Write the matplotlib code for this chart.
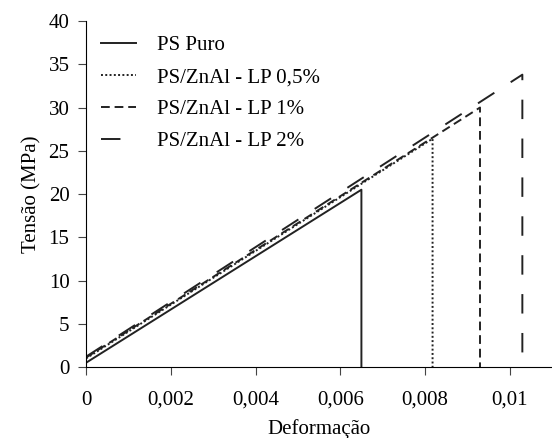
import matplotlib
matplotlib.use('Agg')
import matplotlib.pyplot as plt

plt.rcParams['font.family'] = ['Liberation Serif', 'DejaVu Serif']
plt.rcParams['font.size'] = 15

# (strain, stress): start, rupture point, drop to zero
puro_x = [0, 0.0065, 0.0065]
puro_y = [0.5, 20.5, 0]
lp05_x = [0, 0.00818, 0.00818]
lp05_y = [1.0, 26.4, 0]
lp1_x = [0, 0.0093, 0.0093]
lp1_y = [1.1, 30.0, 0]
lp2_x = [0, 0.0103, 0.0103]
lp2_y = [1.2, 33.8, 0]

labels = ['PS Puro', 'PS/ZnAl - LP 0,5%', 'PS/ZnAl - LP 1%', 'PS/ZnAl - LP 2%']
xticks = [0, 0.002, 0.004, 0.006, 0.008, 0.01]
xticklabels = ['0', '0,002', '0,004', '0,006', '0,008', '0,01']

fig = plt.figure(figsize=(5.52, 4.38), dpi=100)
ax = fig.add_axes([0.156, 0.162, 0.844, 0.79])

ax.plot(puro_x, puro_y, color='#222222', lw=1.4, ls='-', label=labels[0])
ax.plot(lp05_x, lp05_y, color='#222222', lw=1.4, ls=(0, (1, 1.2)), label=labels[1])
ax.plot(lp1_x, lp1_y, color='#222222', lw=1.4, ls=(0, (4.5, 2.5)), label=labels[2])
ax.plot(lp2_x, lp2_y, color='#222222', lw=1.4, ls=(0, (10, 10)), label=labels[3])

ax.set_xlim(0, 0.011)
ax.set_ylim(0, 40)
ax.set_xticks(xticks)
ax.set_xticklabels(xticklabels)
ax.set_yticks(range(0, 41, 5))
ax.spines['top'].set_visible(False)
ax.spines['right'].set_visible(False)
ax.tick_params(direction='out', length=6, color='#444444')
ax.tick_params(axis='x', pad=11)
ax.tick_params(axis='y', pad=6)
ax.set_xlabel('Deformação', labelpad=7)
ax.set_ylabel('Tensão (MPa)', labelpad=5)

ax.legend(loc='upper left', frameon=False, handlelength=1.7, handletextpad=1.0,
          fontsize=15, labelspacing=0.6, borderaxespad=0.3,
          bbox_to_anchor=(0.0, 1.0))

fig.savefig('out.png', dpi=100)
